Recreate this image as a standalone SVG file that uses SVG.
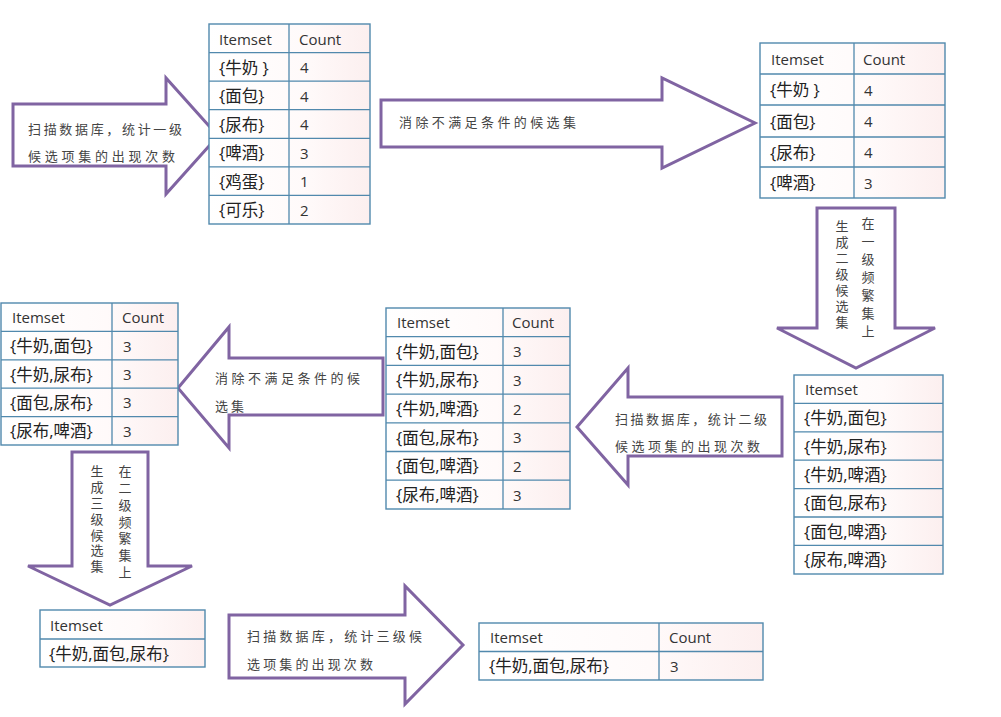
<svg xmlns="http://www.w3.org/2000/svg" width="1001" height="717" viewBox="0 0 1001 717">
<defs>
<linearGradient id="tblfill" x1="0" y1="0" x2="1" y2="0">
<stop offset="0" stop-color="#ffffff"/>
<stop offset="0.6" stop-color="#fffafa"/>
<stop offset="1" stop-color="#fcefef"/>
</linearGradient>
</defs>
<style>
.bg{fill:url(#tblfill);stroke:#5189ad;stroke-width:1.4}
.ln{stroke:#5189ad;stroke-width:1.3;fill:none}
.t{font-family:"Open Sans","Noto Sans CJK SC",sans-serif;font-size:15px;fill:#333;dominant-baseline:central}
.c{font-family:"Open Sans","Noto Sans CJK SC",sans-serif;font-size:16.5px;fill:#222;dominant-baseline:central}
.arr{fill:#ffffff;stroke:#8064a2;stroke-width:3;stroke-linejoin:miter}
.at{font-family:"Noto Sans CJK SC",sans-serif;font-size:13px;fill:#444;dominant-baseline:central}
.vt{font-family:"Noto Sans CJK SC",sans-serif;font-size:13px;fill:#444;writing-mode:vertical-rl}
</style>
<rect width="1001" height="717" fill="#ffffff"/>

<g id="connectors">
<g id="arrow1">
<polygon class="arr" points="13,104 166,104 166,78 218,136 166,194 166,166 13,166"/>
<text class="at" x="28" y="128" textLength="154" lengthAdjust="spacing">扫描数据库，统计一级</text>
<text class="at" x="28" y="155" textLength="147" lengthAdjust="spacing">候选项集的出现次数</text>
</g>
<g id="arrow2">
<polygon class="arr" points="381,100 662,100 662,78 755,123 662,168 662,147 381,147"/>
<text class="at" x="399" y="121" textLength="177" lengthAdjust="spacing">消除不满足条件的候选集</text>
</g>
<g id="arrow3">
<polygon class="arr" points="817,208 895,208 895,328 935,328 856,368 777,328 817,328"/>
<text class="vt" x="868" y="217" letter-spacing="5">在一级频繁集上</text>
<text class="vt" x="842" y="220" letter-spacing="3">生成二级候选集</text>
</g>
<g id="arrow4">
<polygon class="arr" points="577,427 628,368 628,397 782,397 782,456 628,456 628,485"/>
<text class="at" x="615" y="418" textLength="152" lengthAdjust="spacing">扫描数据库，统计二级</text>
<text class="at" x="615" y="445" textLength="145" lengthAdjust="spacing">候选项集的出现次数</text>
</g>
<g id="arrow5">
<polygon class="arr" points="178,388 229,327 229,358 383,358 383,415 229,415 229,448"/>
<text class="at" x="215" y="377" textLength="145" lengthAdjust="spacing">消除不满足条件的候</text>
<text class="at" x="215" y="405" letter-spacing="3">选集</text>
</g>
<g id="arrow6">
<polygon class="arr" points="72,452 148,452 148,566 192,566 110,605 28,566 72,566"/>
<text class="vt" x="125" y="465" letter-spacing="3.7">在二级频繁集上</text>
<text class="vt" x="97" y="465" letter-spacing="2.8">生成三级候选集</text>
</g>
<g id="arrow7">
<polygon class="arr" points="229,615 405,615 405,586 463,645 405,704 405,678 229,678"/>
<text class="at" x="247" y="635" textLength="175" lengthAdjust="spacing">扫描数据库，统计三级候</text>
<text class="at" x="247" y="663" textLength="126" lengthAdjust="spacing">选项集的出现次数</text>
</g>
</g>

<g id="table1">
<rect class="bg" x="209" y="24" width="161" height="200"/>
<path class="ln" d="M289,24V224M209,52.6H370M209,81.1H370M209,109.7H370M209,138.3H370M209,166.9H370M209,195.4H370"/>
<text class="t" x="219" y="38.5">Itemset</text><text class="t" x="299" y="38.5">Count</text>
<text class="c" x="219" y="67">{牛奶 }</text><text class="t" x="300" y="67">4</text>
<text class="c" x="219" y="95.5">{面包}</text><text class="t" x="300" y="95.5">4</text>
<text class="c" x="219" y="124">{尿布}</text><text class="t" x="300" y="124">4</text>
<text class="c" x="219" y="152.6">{啤酒}</text><text class="t" x="300" y="152.6">3</text>
<text class="c" x="219" y="181.2">{鸡蛋}</text><text class="t" x="300" y="181.2">1</text>
<text class="c" x="219" y="209.8">{可乐}</text><text class="t" x="300" y="209.8">2</text>
</g>

<g id="table2">
<rect class="bg" x="760" y="43" width="185" height="155"/>
<path class="ln" d="M854,43V198M760,74H945M760,105H945M760,137H945M760,167H945"/>
<text class="t" x="771" y="58.5">Itemset</text><text class="t" x="863" y="58.5">Count</text>
<text class="c" x="770" y="89.5">{牛奶 }</text><text class="t" x="864" y="89.5">4</text>
<text class="c" x="770" y="121">{面包}</text><text class="t" x="864" y="121">4</text>
<text class="c" x="770" y="152">{尿布}</text><text class="t" x="864" y="152">4</text>
<text class="c" x="770" y="182.5">{啤酒}</text><text class="t" x="864" y="182.5">3</text>
</g>

<g id="table3">
<rect class="bg" x="794" y="375" width="149" height="199"/>
<path class="ln" d="M794,403.4H943M794,431.8H943M794,460.2H943M794,488.6H943M794,517H943M794,545.4H943"/>
<text class="t" x="805" y="389.2">Itemset</text>
<text class="c" x="804" y="417.6">{牛奶,面包}</text>
<text class="c" x="804" y="446">{牛奶,尿布}</text>
<text class="c" x="804" y="474.4">{牛奶,啤酒}</text>
<text class="c" x="804" y="502.8">{面包,尿布}</text>
<text class="c" x="804" y="531.2">{面包,啤酒}</text>
<text class="c" x="804" y="559.6">{尿布,啤酒}</text>
</g>

<g id="table4">
<rect class="bg" x="386" y="308" width="184" height="201"/>
<path class="ln" d="M503,308V509M386,336.7H570M386,365.4H570M386,394.1H570M386,422.8H570M386,451.5H570M386,480.2H570"/>
<text class="t" x="397" y="322.4">Itemset</text><text class="t" x="512" y="322.4">Count</text>
<text class="c" x="396" y="351">{牛奶,面包}</text><text class="t" x="513" y="351">3</text>
<text class="c" x="396" y="379.8">{牛奶,尿布}</text><text class="t" x="513" y="379.8">3</text>
<text class="c" x="396" y="408.5">{牛奶,啤酒}</text><text class="t" x="513" y="408.5">2</text>
<text class="c" x="396" y="437.2">{面包,尿布}</text><text class="t" x="513" y="437.2">3</text>
<text class="c" x="396" y="465.9">{面包,啤酒}</text><text class="t" x="513" y="465.9">2</text>
<text class="c" x="396" y="494.6">{尿布,啤酒}</text><text class="t" x="513" y="494.6">3</text>
</g>

<g id="table5">
<rect class="bg" x="1" y="303" width="177" height="142"/>
<path class="ln" d="M112,303V445M1,331.4H178M1,359.8H178M1,388.2H178M1,416.6H178"/>
<text class="t" x="12" y="317.2">Itemset</text><text class="t" x="122" y="317.2">Count</text>
<text class="c" x="10" y="345.6">{牛奶,面包}</text><text class="t" x="123" y="345.6">3</text>
<text class="c" x="10" y="374">{牛奶,尿布}</text><text class="t" x="123" y="374">3</text>
<text class="c" x="10" y="402.4">{面包,尿布}</text><text class="t" x="123" y="402.4">3</text>
<text class="c" x="10" y="430.8">{尿布,啤酒}</text><text class="t" x="123" y="430.8">3</text>
</g>

<g id="table6">
<rect class="bg" x="40" y="610" width="165" height="57"/>
<path class="ln" d="M40,639H205"/>
<text class="t" x="50" y="624.5">Itemset</text>
<text class="c" x="49" y="653">{牛奶,面包,尿布}</text>
</g>

<g id="table7">
<rect class="bg" x="479" y="623" width="284" height="57"/>
<path class="ln" d="M659,623V680M479,651.5H763"/>
<text class="t" x="490" y="637">Itemset</text><text class="t" x="669" y="637">Count</text>
<text class="c" x="489" y="665.5">{牛奶,面包,尿布}</text><text class="t" x="670" y="665.5">3</text>
</g>
</svg>
